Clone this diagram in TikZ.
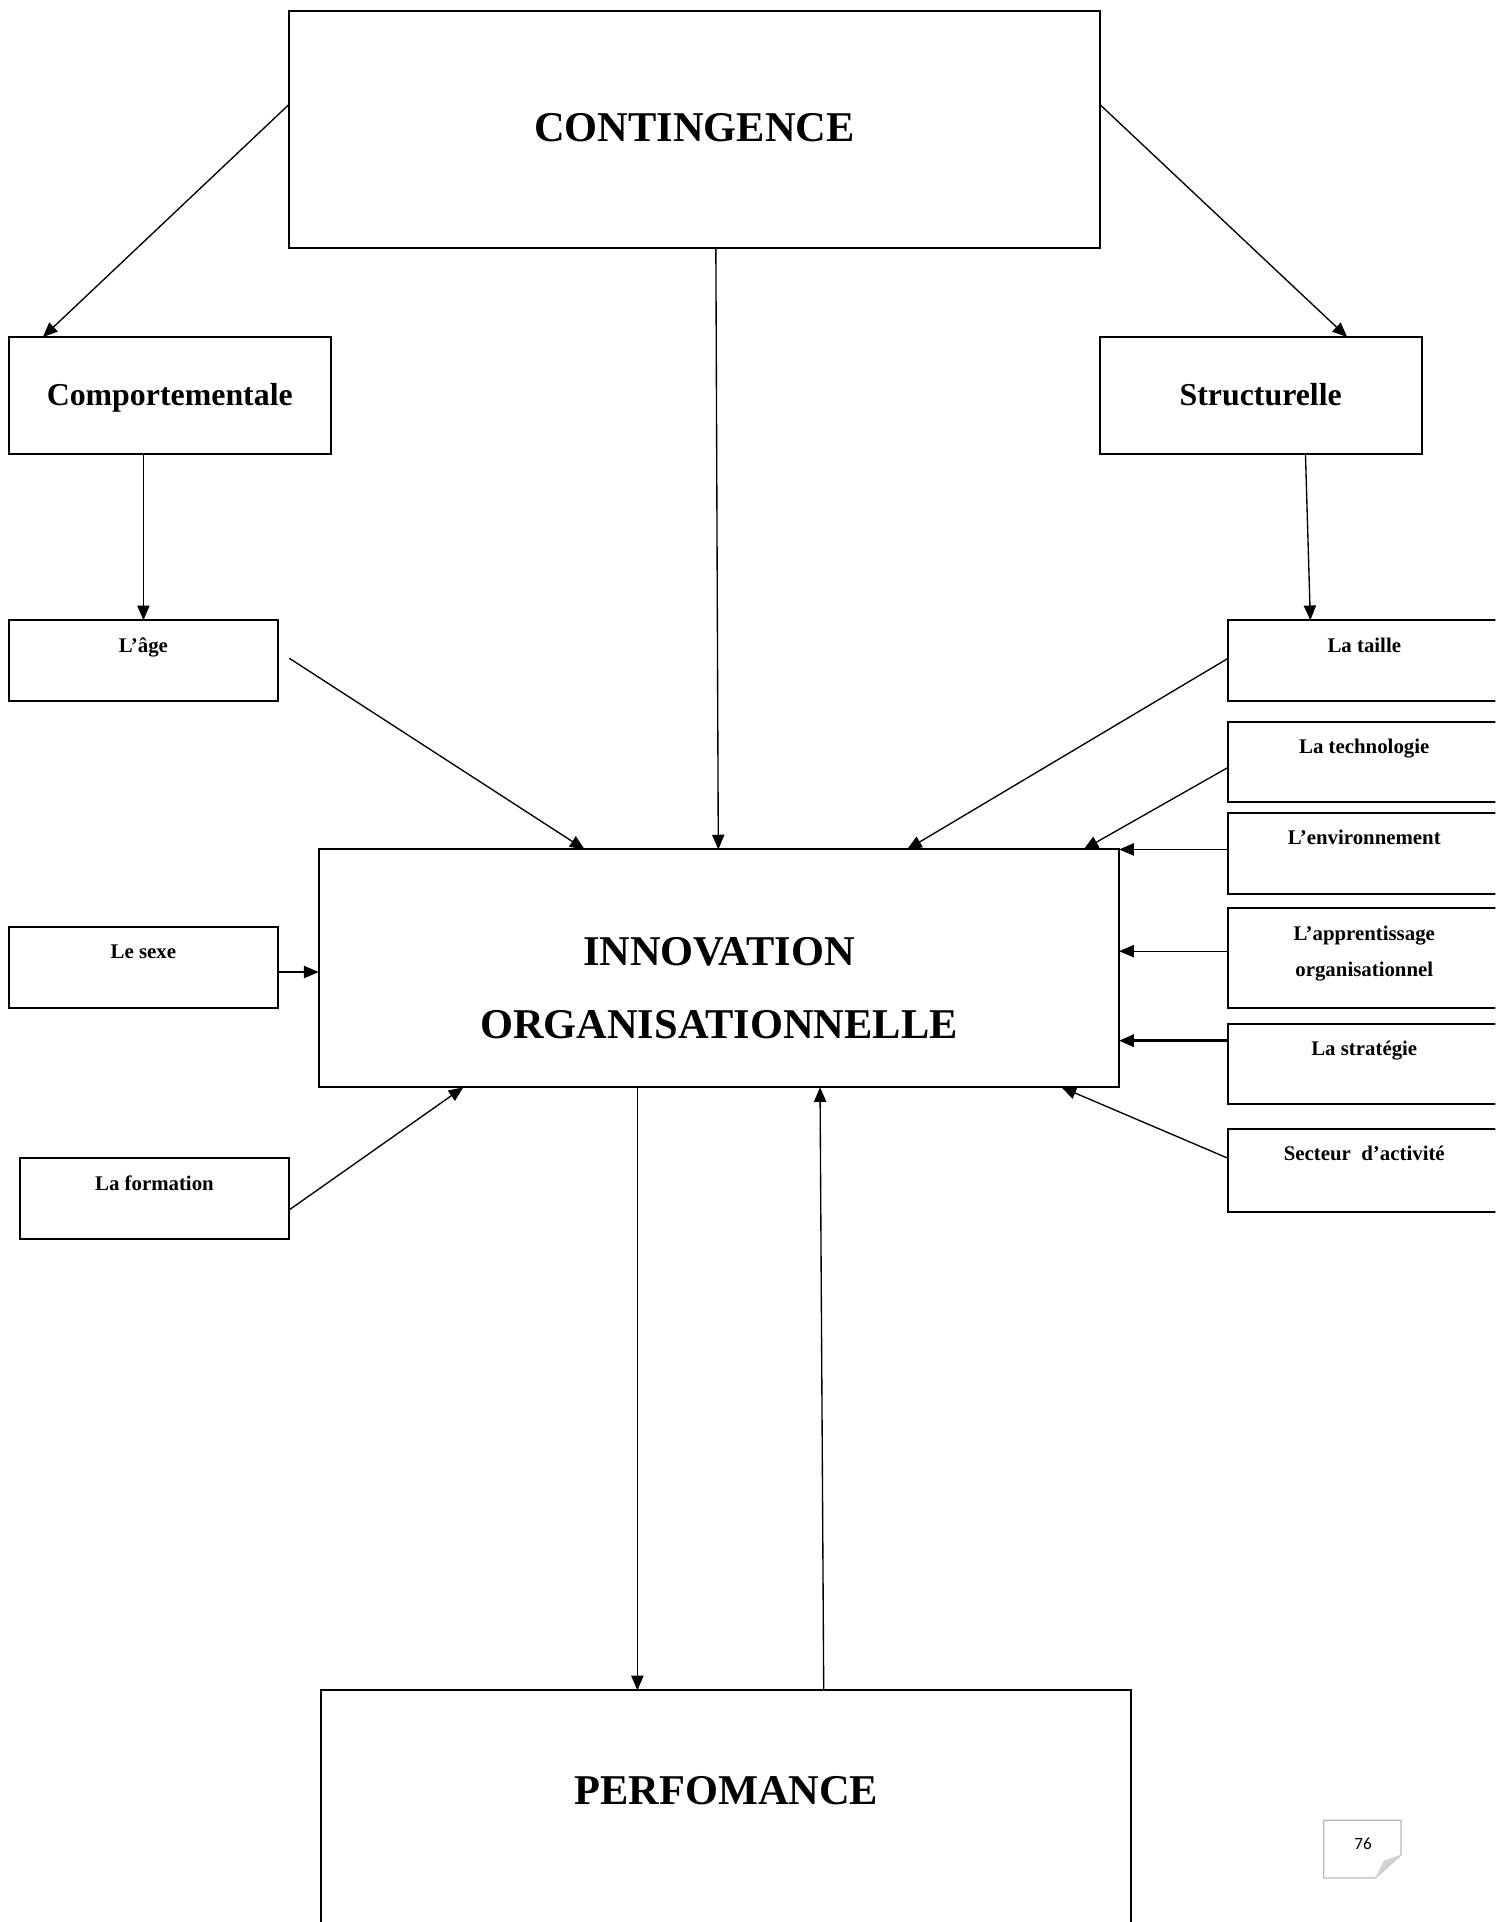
\documentclass[tikz,border=0pt]{standalone}
\usepackage{fontspec}
\setmainfont{Liberation Serif}
\newfontfamily\pagefont{Carlito}
\usetikzlibrary{arrows.meta,positioning}

\tikzset{
  headbox/.style={draw,line width=0.8pt,inner sep=0pt,outer sep=0pt,anchor=north west,font=\fontsize{17.3}{30}\selectfont\bfseries},
  midbox/.style={draw,line width=0.8pt,inner sep=0pt,outer sep=0pt,anchor=north west,minimum width=131.5pt,text height=27.75pt,text depth=19.75pt,font=\fontsize{13}{15}\selectfont\bfseries},
  factor/.style={draw,line width=0.8pt,inner sep=0pt,outer sep=0pt,anchor=north west,minimum width=110pt,text height=13pt,text depth=20pt,font=\fontsize{8.5}{15}\selectfont\bfseries},
  link/.style={-{Triangle[length=6pt,width=5pt]},line width=0.55pt}
}

\begin{document}
\begin{tikzpicture}[x=0.5pt,y=-0.5pt]

\clip (0,0) rectangle (1220,1568);
\fill [white] (0,0) rectangle (1220,1568);

\node [headbox,minimum width=330.5pt,text height=53.2pt,text depth=43.3pt] (contingence) at (236,9) {CONTINGENCE};
\node [midbox] (comport) at (7,275) {Comportementale};
\node [midbox] (struct) at (897,275) {Structurelle};

\begin{scope}
\node [factor] (age) at (7,506) {L’âge};
\node [factor] (sexe) at (7,756) {Le sexe};
\node [factor] (formation) at (16,945) {La formation};
\end{scope}

\begin{scope}[factor/.append style={minimum width=111pt}]
\node [factor] (taille) at (1002,506) {La taille};
\node [factor,text depth=19.5pt] (techno) at ([yshift=-8.5pt]taille.south west) {La technologie};
\node [factor] (env) at ([yshift=-4.5pt]techno.south west) {L’environnement};
\node [factor,align=center,text height=28pt,text depth=12.5pt] (appr) at ([yshift=-6pt]env.south west) {L’apprentissage\\organisationnel};
\node [factor] (strat) at ([yshift=-6.5pt]appr.south west) {La stratégie};
\node [factor,text depth=21pt] (secteur) at ([yshift=-10pt]strat.south west) {Secteur\ \ d’activité};
\end{scope}

\node [headbox,minimum width=326.5pt,align=center,text height=77.2pt,text depth=19.8pt] (innov) at (260,693) {INNOVATION\\ORGANISATIONNELLE};
\node [headbox,minimum width=330.5pt,text height=46.5pt,text depth=53.5pt] (perf) at (262,1379) {PERFOMANCE};

\coordinate (sexein) at ([yshift=-50pt]innov.north west);
\coordinate (apprin) at ([yshift=-41.5pt]innov.north east);
\coordinate (stratin) at ([yshift=-78pt]innov.north east);

\draw [link] ([yshift=-38pt]contingence.north west) -- ([xshift=14pt]comport.north west);
\draw [link] ([yshift=-38pt]contingence.north east) -- ([xshift=101pt]struct.north west);
\draw [link] ([xshift=174pt]contingence.south west) -- ([xshift=163pt]innov.north west);
\draw [link] ([xshift=55pt]comport.south west) -- ([xshift=55pt]age.north west);
\draw [link] ([xshift=84pt]struct.south west) -- ([xshift=33.5pt]taille.north west);

\draw [link] ([xshift=4.5pt,yshift=1pt]age.east) -- ([xshift=108.5pt]innov.north west);
\draw [link] (sexein -| sexe.east) -- (sexein);
\draw [link] ([yshift=-4.5pt]formation.east) -- ([xshift=59pt]innov.south west);

\draw [link] ([yshift=1pt]taille.west) -- ([xshift=240pt]innov.north west);
\draw [link] ([yshift=-2.25pt]techno.west) -- ([xshift=312pt]innov.north west);
\draw [link] (innov.north east -| env.west) -- (innov.north east);
\draw [link] (apprin -| appr.west) -- (apprin);
\draw [link,line width=1pt] (stratin -| strat.west) -- (stratin);
\draw [link] ([yshift=5pt]secteur.west) -- ([xshift=303pt]innov.south west);

\draw [link] ([xshift=130pt]innov.south west) -- ([xshift=129pt]perf.north west);
\draw [link] ([xshift=205pt]perf.north west) -- ([xshift=204.5pt]innov.south west);

\draw [gray!55,line width=0.5pt] (1080,1485) -- (1143,1485) -- (1143,1513) -- (1122,1532) -- (1080,1532) -- cycle;
\fill [gray!35] (1143,1513) -- (1129,1518) -- (1122,1532) -- cycle;
\node [font=\pagefont\fontsize{7}{8}\selectfont] (pagenum) at (1112,1504) {76};

\end{tikzpicture}
\end{document}
